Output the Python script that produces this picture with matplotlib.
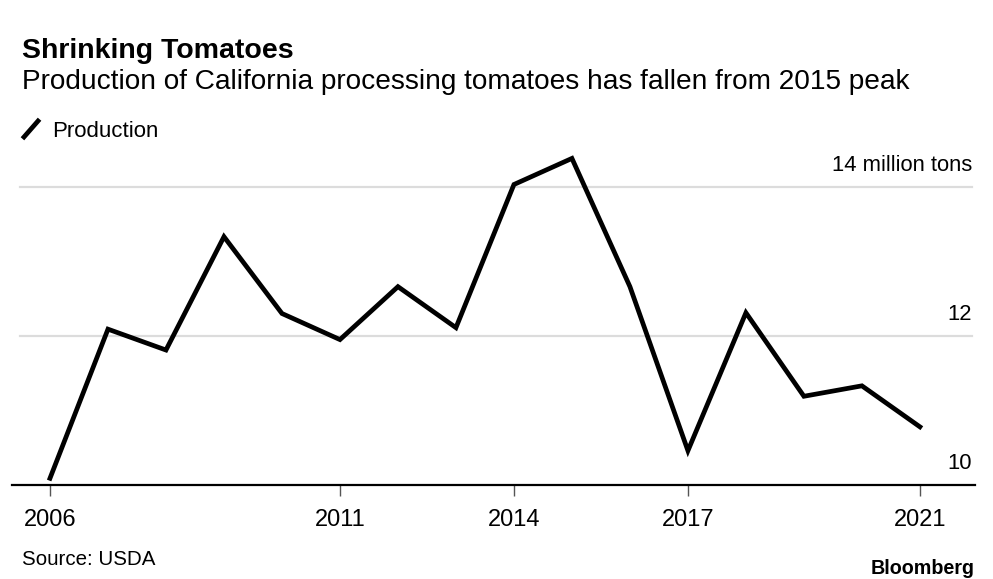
import matplotlib.pyplot as plt
from matplotlib.lines import Line2D

plt.rcParams['font.family'] = ['Liberation Sans', 'DejaVu Sans']

# California processing tomato production, million tons
years = [2006, 2007, 2008, 2009, 2010, 2011, 2012, 2013,
         2014, 2015, 2016, 2017, 2018, 2019, 2020, 2021]
production = [10.09, 12.09, 11.81, 13.33, 12.30, 11.95, 12.66, 12.11,
              14.03, 14.38, 12.66, 10.46, 12.31, 11.19, 11.33, 10.78]

tick_years = [2006, 2011, 2014, 2017, 2021]
grid_values = [12, 14]
y_labels = {10: "10", 12: "12", 14: "14 million tons"}

W, H = 993, 579
fig = plt.figure(figsize=(W / 100, H / 100), dpi=100)

# axes box in pixels: x 12..975, y 142..485
ax = fig.add_axes([12 / W, 1 - 485 / H, (975 - 12) / W, (485 - 142) / H])
ax.set_xlim(2005.345, 2021.95)
ax.set_ylim(10, 14.6)

for v in grid_values:
    ax.plot([2005.48, 2021.9], [v, v], color="#dcdcdc", lw=1.6, zorder=1)

ax.plot(years, production, color="black", lw=3.4, solid_joinstyle="miter",
        zorder=3, clip_on=False)

# y labels sit above the gridlines, right aligned
for v, lab in y_labels.items():
    ax.text(2021.9, v + 0.15, lab, ha="right", va="bottom", fontsize=15.8)

for s in ["top", "right", "left"]:
    ax.spines[s].set_visible(False)
ax.spines["bottom"].set_linewidth(1.6)
ax.spines["bottom"].set_color("black")
ax.set_yticks([])
ax.set_xticks(tick_years)
ax.set_xticklabels([str(y) for y in tick_years], fontsize=17)
ax.tick_params(axis="x", length=8, width=1, color="#555555", pad=9)

# headings
fig.text(22 / W, 1 - 58 / H, "Shrinking Tomatoes", fontsize=20.5,
         fontweight="bold", ha="left", va="baseline")
fig.text(22 / W, 1 - 89 / H,
         "Production of California processing tomatoes has fallen from 2015 peak",
         fontsize=20.2, ha="left", va="baseline")

# legend: slash icon + label
fig.add_artist(Line2D([24 / W, 38 / W], [1 - 137 / H, 1 - 121 / H],
                      color="black", lw=3.4, transform=fig.transFigure))
fig.text(52 / W, 1 - 137 / H, "Production", fontsize=16, ha="left",
         va="baseline")

fig.text(22 / W, 1 - 565 / H, "Source: USDA", fontsize=14.8, ha="left",
         va="baseline")
fig.text(975 / W, 1 - 574 / H, "Bloomberg", fontsize=14.2, fontweight="bold",
         ha="right", va="baseline")

fig.savefig("out.png", dpi=100)
